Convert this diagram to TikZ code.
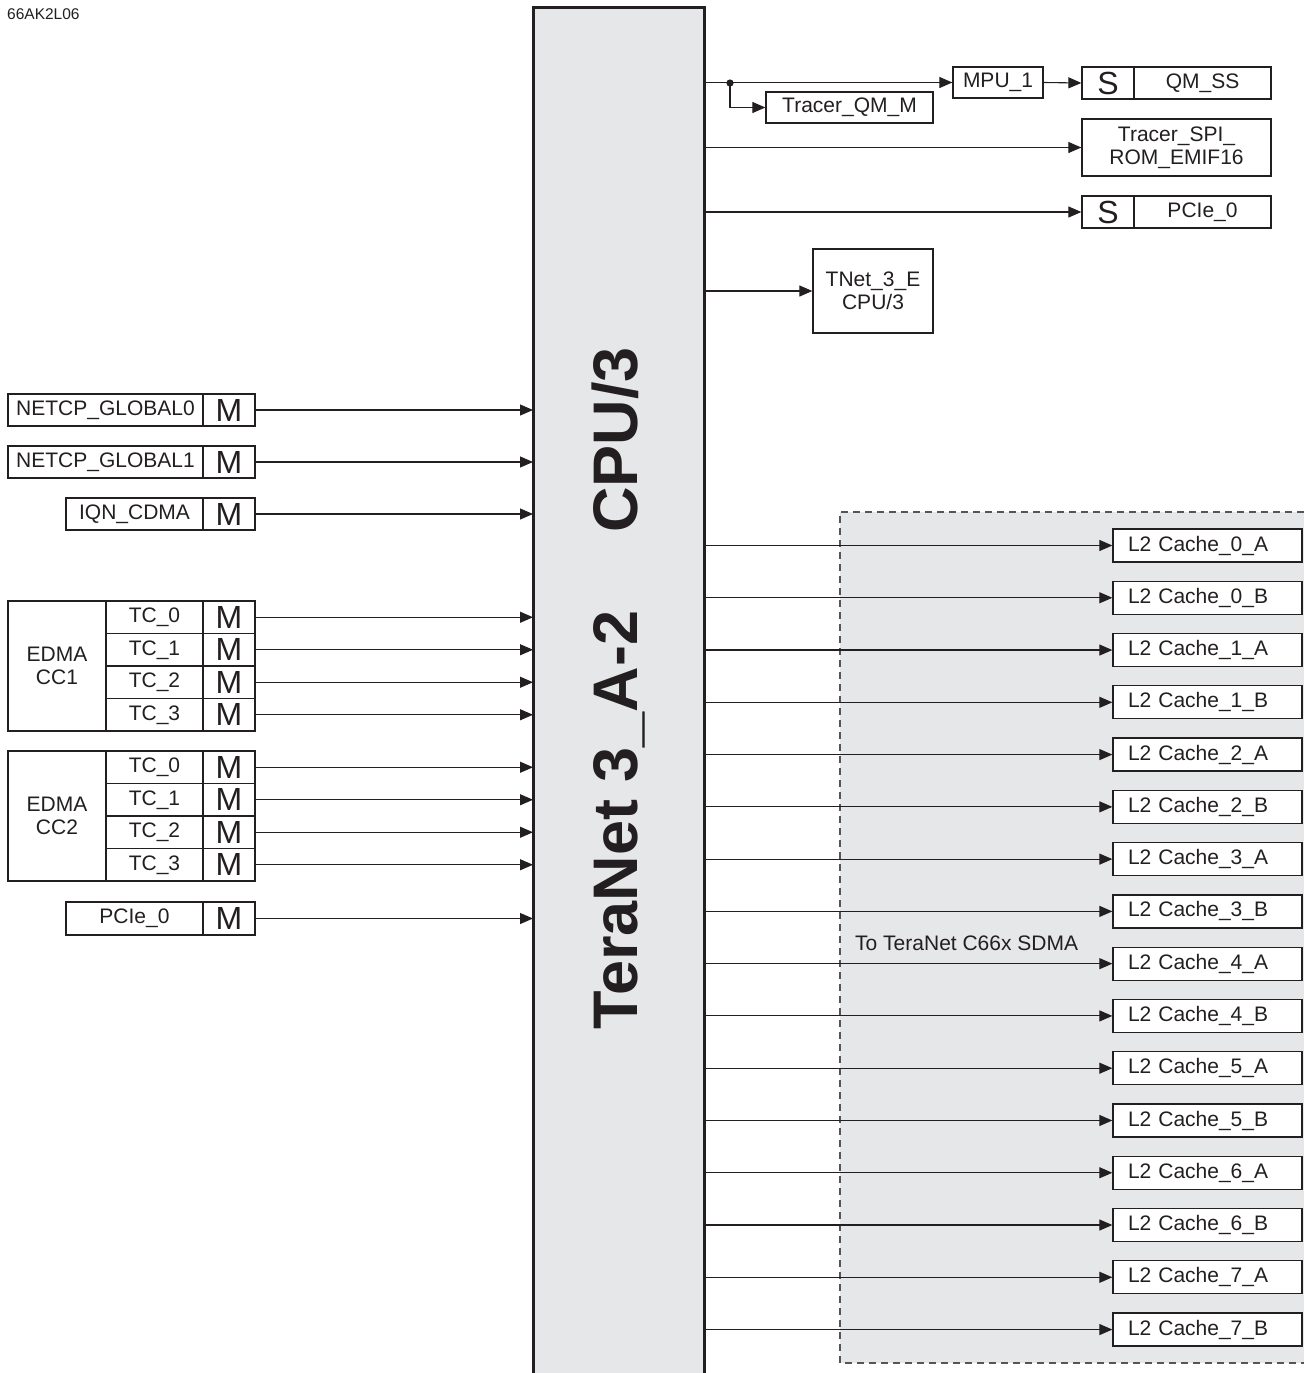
\documentclass[tikz,border=0pt]{standalone}
\usepackage{fontspec}
\setmainfont{Liberation Sans}
\usetikzlibrary{arrows.meta}
\definecolor{barfill}{HTML}{E6E7E8}
\definecolor{ink}{HTML}{231F20}
\definecolor{dashc}{HTML}{555555}
\tikzset{
  box/.style={draw=ink, line width=1.3pt, fill=white, inner sep=0pt, font=\fontsize{21}{23}\selectfont, text=ink},
  mcell/.style={box, minimum width=52pt, minimum height=32pt, font=\fontsize{32}{34}\selectfont},
  l2box/.style={box, text width=159pt, inner xsep=15pt, minimum height=33pt, align=left},
  conn/.style={draw=ink, line width=1.1pt, -{Triangle[length=13pt,width=11pt]}},
}
\begin{document}
\begin{tikzpicture}[x=1pt,y=-1pt]
\useasboundingbox (0,0) rectangle (1304,1373);
% title
\node[anchor=west, inner sep=0pt, font=\fontsize{15.5}{18}\selectfont, text=ink] (title) at (7,14) {66AK2L06};
% dashed region
\fill[barfill] (840,512) rectangle (1304,1363);
\draw[dashc, line width=1.2pt, dash pattern=on 7pt off 5pt] (1304,512) -- (840,512) -- (840,1363) -- (1304,1363);
\node[anchor=west, inner sep=0pt, font=\fontsize{21}{24}\selectfont, text=ink] (sdma) at (855,943) {To TeraNet C66x SDMA};
% main bar
\node[fill=barfill, inner sep=0pt, minimum width=171pt, minimum height=1366pt, anchor=north west] (bar) at (533,7) {};
\draw[ink, line width=3pt] (533,1373) -- (533,7) -- (704,7) -- (704,1373);
\node[rotate=90, anchor=base, inner sep=0pt, font=\bfseries\fontsize{63}{66}\selectfont, text=ink] (tn) at (637,820) {TeraNet 3\_A-2};
\node[rotate=90, anchor=base, inner sep=0pt, font=\bfseries\fontsize{63}{66}\selectfont, text=ink] (cpu) at (637,440) {CPU/3};
% top right
\node[box, minimum width=90pt, minimum height=31pt] (mpu) at (998,82.5) {MPU\_1};
\node[mcell, minimum height=32pt] (qms) at (1108,83) {S};
\node[box, minimum width=137pt, minimum height=32pt] (qm) at (1202.5,83) {QM\_SS};
\node[box, minimum width=167pt, minimum height=31pt] (trqm) at (849.5,107.5) {Tracer\_QM\_M};
\node[box, minimum width=189pt, minimum height=57pt, align=center] (trspi) at (1176.5,147.5) {Tracer\_SPI\_\\ROM\_EMIF16};
\node[mcell, minimum height=32pt] (pcs) at (1108,212) {S};
\node[box, minimum width=137pt, minimum height=32pt] (pci) at (1202.5,212) {PCIe\_0};
\node[box, minimum width=120pt, minimum height=84pt, align=center] (tnet) at (873,291) {TNet\_3\_E\\CPU/3};
\coordinate (dot) at (730,83);
\draw[conn] (bar.east |- mpu.west) -- (mpu.west);
\fill[ink] (dot) circle (3.6pt);
\draw[conn] (dot) |- (trqm.west);
\draw[conn] (mpu.east) -- (qms.west);
\draw[conn] (bar.east |- trspi.west) -- (trspi.west);
\draw[conn] (bar.east |- pcs.west) -- (pcs.west);
\draw[conn] (bar.east |- tnet.west) -- (tnet.west);
% left masters
\node[box, minimum width=195pt, minimum height=32pt] (ng0) at (105.5,410) {NETCP\_GLOBAL0};
\node[mcell] (ng0m) at (229,410) {M};
\node[box, minimum width=195pt, minimum height=32pt] (ng1) at (105.5,462) {NETCP\_GLOBAL1};
\node[mcell] (ng1m) at (229,462) {M};
\node[box, minimum width=137pt, minimum height=32pt] (iqn) at (134.5,514) {IQN\_CDMA};
\node[mcell] (iqnm) at (229,514) {M};
\node[box, minimum width=137pt, minimum height=33pt] (pcie) at (134.5,918.5) {PCIe\_0};
\node[mcell, minimum height=33pt] (pciem) at (229,918.5) {M};
\foreach \nm in {ng0m,ng1m,iqnm,pciem} {\draw[conn] (\nm.east) -- (bar.west |- \nm.east);}
% EDMA groups
\node[box, minimum width=98pt, minimum height=130pt, align=center] (cc1) at (57,666) {EDMA\\CC1};
\node[box, minimum width=98pt, minimum height=130pt, align=center] (cc2) at (57,816) {EDMA\\CC2};
\foreach \g/\y in {a/601, b/751} {
  \foreach \i in {0,1,2,3} {
    \pgfmathsetmacro{\cy}{\y+16.25+32.5*\i}
    \node[box, minimum width=97pt, minimum height=32.5pt] (tc\g\i) at (154.5,\cy) {TC\_\i};
    \node[mcell, minimum height=32.5pt] (tcm\g\i) at (229,\cy) {M};
    \draw[conn] (tcm\g\i.east) -- (bar.west |- tcm\g\i.east);
  }
}
% L2 caches
\foreach \i in {0,...,7} {
  \foreach \s/\k in {A/0, B/1} {
    \pgfmathsetmacro{\cy}{545.5+52.27*(2*\i+\k)}
    \node[l2box] (l2\i\s) at (1207.5,\cy) {L2 Cache\_\i\_\s};
    \draw[conn] (bar.east |- l2\i\s.west) -- (l2\i\s.west);
  }
}
\end{tikzpicture}
\end{document}
